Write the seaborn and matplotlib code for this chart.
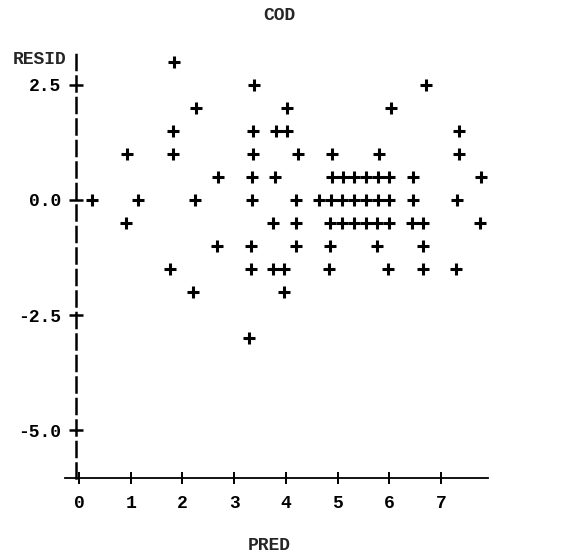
import numpy as np
import pandas as pd
import matplotlib
matplotlib.use("Agg")
import matplotlib.pyplot as plt
import seaborn as sns

# residual rows of the printer plot (0.5 apart) and the PRED values on each row
pred_r30 = [1.84]
pred_r25 = [3.39, 6.71]
pred_r20 = [2.26, 4.03, 6.03]
pred_r15 = [1.82, 3.37, 3.81, 4.02, 7.35]
pred_r10 = [0.92, 1.82, 3.36, 4.23, 4.90, 5.80, 7.35]
pred_r05 = [2.69, 3.35, 3.79, 4.89, 5.10, 5.32, 5.55, 5.78, 6.00, 6.45, 7.78]
pred_r00 = [0.26, 1.14, 2.24, 3.34, 4.20, 4.65, 4.87, 5.09, 5.32, 5.55, 5.78,
            6.00, 6.45, 7.32]
pred_m05 = [0.90, 3.76, 4.20, 4.85, 5.08, 5.31, 5.55, 5.77, 6.00, 6.44, 6.66, 7.76]
pred_m10 = [2.66, 3.32, 4.20, 4.85, 5.76, 6.65]
pred_m15 = [1.76, 3.32, 3.75, 3.97, 4.84, 5.98, 6.65, 7.29]
pred_m20 = [2.20, 3.97]
pred_m30 = [3.29]

resid_levels = [3.0, 2.5, 2.0, 1.5, 1.0, 0.5, 0.0, -0.5, -1.0, -1.5, -2.0, -3.0]
pred_rows = [pred_r30, pred_r25, pred_r20, pred_r15, pred_r10, pred_r05,
             pred_r00, pred_m05, pred_m10, pred_m15, pred_m20, pred_m30]

x_ticks = [0, 1, 2, 3, 4, 5, 6, 7]
y_ticks = [2.5, 0.0, -2.5, -5.0]
y_tick_labels = ["2.5", "0.0", "-2.5", "-5.0"]

rows = []
for r, preds in zip(resid_levels, pred_rows):
    for p in preds:
        rows.append({"PRED": p, "RESID": r})
df = pd.DataFrame(rows)

sns.set_theme(style="white")
plt.rcParams["font.family"] = ["Liberation Mono", "DejaVu Sans Mono"]
plt.rcParams["font.weight"] = "bold"
plt.rcParams["axes.unicode_minus"] = False

W, H = 575, 558
fig = plt.figure(figsize=(W / 100, H / 100), dpi=100)
ax = fig.add_axes([65 / W, 80 / H, 423 / W, 428 / H])

sns.scatterplot(data=df, x="PRED", y="RESID", marker="+", s=80,
                linewidth=2.2, color="black", legend=False, ax=ax)

ax.set_xlim(-0.27, 7.91)
ax.set_ylim(-6.03, 3.25)
ax.set_xticks(x_ticks)
ax.set_yticks(y_ticks)
ax.set_yticklabels(y_tick_labels)

for s in ["top", "right"]:
    ax.spines[s].set_visible(False)
ax.spines["left"].set_position(("data", -0.05))
ax.spines["left"].set_linestyle((0, (6, 2.6)))
ax.spines["left"].set_linewidth(1.8)
ax.spines["left"].set_color("black")
ax.spines["bottom"].set_linewidth(1.3)
ax.spines["bottom"].set_color("black")

# printer-style "+" ticks crossing the axes
ax.tick_params(axis="both", direction="inout", colors="black", labelsize=13,
               bottom=True, left=True)
ax.tick_params(axis="x", pad=8, length=8, width=1.4)
ax.tick_params(axis="y", pad=6, length=10, width=1.8)
ax.grid(False)

ax.set_xlabel("")
ax.set_ylabel("")
fig.text(279 / W, 1 - 16 / H, "COD", ha="center", va="center",
         fontsize=13, fontweight="bold")
fig.text(269 / W, 1 - 546 / H, "PRED", ha="center", va="center",
         fontsize=13, fontweight="bold")
fig.text(67 / W, 1 - 60 / H, "RESID", ha="right", va="center",
         fontsize=13, fontweight="bold")

fig.savefig("out.png", dpi=100, facecolor="white")
